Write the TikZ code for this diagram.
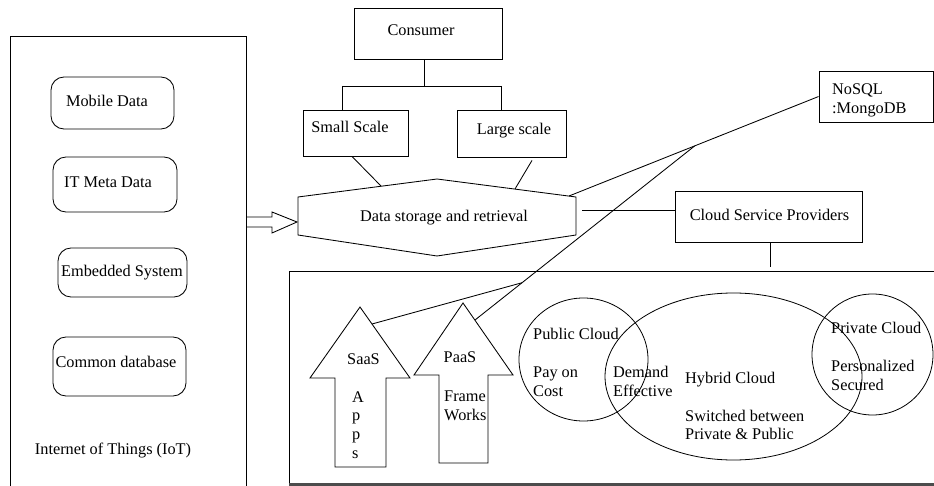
\documentclass[tikz,border=0pt]{standalone}
\usepackage{fontspec}
\setmainfont{Liberation Serif}
\usetikzlibrary{calc,shapes.geometric}

\begin{document}
\begin{tikzpicture}[x=1pt,y=-1pt,
  every node/.style={font=\fontsize{16.3}{18.7}\selectfont, inner sep=0pt},
  wire/.style={line width=0.85pt},
  sqbox/.style={draw, wire, rectangle},
  rbox/.style={draw, wire, rectangle, rounded corners=13pt},
  oval/.style={draw, line width=0.8pt, ellipse},
  tx/.style={text height=11pt, text depth=0pt},
  lbl/.style={tx, anchor=west},
  multi/.style={align=left, anchor=west}]

\useasboundingbox (0,0) rectangle (934,486);

% ---------- Internet of Things panel ----------
\draw[wire] (10,486) -- (10,36) -- (246,36) -- (246,486);
\node[rbox, minimum width=123pt, minimum height=52pt] (mobile) at (112.5,103) {};
\node[tx] (mobileT) at (107,101) {Mobile Data};
\node[rbox, minimum width=124pt, minimum height=55pt] (itmeta) at (115,184.5) {};
\node[tx] (itmetaT) at (108,182) {IT Meta Data};
\node[rbox, minimum width=129pt, minimum height=49pt] (embedded) at (122.5,272.5) {};
\node[tx] (embeddedT) at (122,271) {Embedded System};
\node[rbox, minimum width=133pt, minimum height=59pt] (commondb) at (119.5,366.5) {};
\node[tx] (commondbT) at (116,362) {Common database};
\node[tx] (iot) at (113,449) {Internet of Things (IoT)};

% block arrow into the storage hexagon
\draw[wire, line join=miter] (246,217) -- (272,217) -- (272,212) -- (297,222)
  -- (272,233) -- (272,227) -- (246,227);

% ---------- Consumer tree ----------
\node[sqbox, minimum width=148pt, minimum height=51pt] (consumer) at (428,33.5) {};
\node[tx] (consumerT) at (421,30) {Consumer};
\node[sqbox, minimum width=105pt, minimum height=46pt] (small) at (355.5,133) {};
\node[tx] (smallT) at (350,127) {Small Scale};
\node[sqbox, minimum width=109pt, minimum height=47pt] (large) at (511.5,133.5) {};
\node[tx] (largeT) at (514,129) {Large scale};

\coordinate (split) at (424,86);
\coordinate (busL) at (342,86);
\coordinate (busR) at (501,86);
\draw[wire] (consumer.south -| split) -- (split);
\draw[wire] (busL) -- (busR);
\draw[wire] (busL) -- (busL |- small.north);
\draw[wire] (busR) -- (busR |- large.north);

% ---------- Data storage hexagon ----------
\coordinate (hexW1) at (298,197);
\coordinate (hexN)  at (437,179);
\coordinate (hexE1) at (576,197);
\coordinate (hexE2) at (576,235);
\coordinate (hexS)  at (437,256);
\coordinate (hexW2) at (298,235);
\draw[wire] (hexW1) -- (hexN) -- (hexE1) -- (hexE2) -- (hexS) -- (hexW2) -- cycle;
\node[tx] (storage) at (444,216) {Data storage and retrieval};

\coordinate (hexSmall) at (381,186);
\coordinate (hexLarge) at (515,189);
\coordinate (hexCorner) at (569,196);
\coordinate (hexRight) at (582,210);
\draw[wire] ([xshift=-3.5pt]small.south) -- (hexSmall);
\draw[wire] ([xshift=20.5pt,yshift=-3pt]large.south) -- (hexLarge);

% ---------- NoSQL ----------
\node[sqbox, minimum width=114pt, minimum height=51pt] (nosql) at (876,96.5) {};
\node[multi] (nosqlT) at (832,100.5) {NoSQL\\:MongoDB};
\draw[wire] (nosql.west) -- (hexCorner);

% ---------- Cloud Service Providers ----------
\node[sqbox, minimum width=187pt, minimum height=51pt] (csp) at (768.5,216.5) {};
\node[tx] (cspT) at (769.5,215) {Cloud Service Providers};
\draw[wire] (hexRight) -- (hexRight -| csp.west);
\draw[wire] ([xshift=1.5pt]csp.south) -- ++(0,25);

% ---------- Service models panel ----------
\draw[wire] (934,271) -- (289,271) -- (289,484);
\draw[line width=2.5pt, black!70] (289,484.5) -- (934,484.5);

% SaaS arrow
\draw[wire, line join=miter] (360,307) -- (410,378) -- (386,378) -- (386,467)
  -- (335,467) -- (335,378) -- (310,378) -- cycle;
\node[tx] (saas) at (363.5,359) {SaaS};
\node[multi] (apps) at (352,425) {A\\p\\p\\s};

% PaaS arrow
\draw[wire, line join=miter] (463,303) -- (513,375) -- (488,375) -- (488,463)
  -- (439,463) -- (439,375) -- (414,375) -- cycle;
\node[tx] (paas) at (460,357) {PaaS};
\node[multi] (frame) at (444,405.5) {Frame\\Works};

% links from the NoSQL connector down to the service arrows
\coordinate (saasHook) at (372,324);
\coordinate (paasHook) at (475,320);
\coordinate (j1) at ($(nosql.west)!0.496!(hexCorner)$);
\coordinate (j2) at ($(j1)!0.786!(paasHook)$);
\draw[wire] (j1) -- (paasHook);
\draw[wire] (saasHook) -- (j2);

% ---------- Cloud deployment models ----------
\node[oval, minimum width=129pt, minimum height=123pt] (public) at (583.5,359.5) {};
\node[oval, minimum width=257pt, minimum height=167pt] (hybrid) at (733.5,376.5) {};
\node[oval, minimum width=121pt, minimum height=121pt] (private) at (872.5,354.5) {};

\node[lbl] (publicT) at (533,334) {Public Cloud};
\node[multi] (payT) at (533,382) {Pay on\\Cost};
\node[multi] (demandT) at (613,381.5) {Demand\\Effective};
\node[lbl] (hybridT) at (685,378) {Hybrid Cloud};
\node[multi] (switchT) at (685,425) {Switched between\\Private \& Public};
\node[lbl] (privateT) at (831,328) {Private Cloud};
\node[multi] (persT) at (831,375.5) {Personalized\\Secured};

\end{tikzpicture}
\end{document}
